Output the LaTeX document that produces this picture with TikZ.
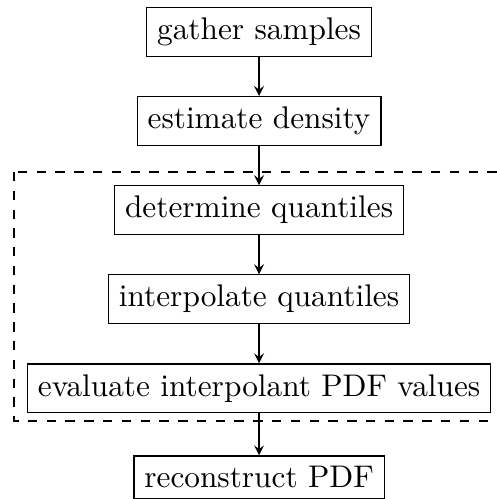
\documentclass[tikz,border=0pt]{standalone}

\begin{document}
\begin{tikzpicture}[box/.style={draw},>=stealth]
                \useasboundingbox (-2.909,0.359) rectangle (2.661,-5.244);
                \node[box] (gather) at (0,0) {gather samples};
                \node[box] (density) at (0,-1) {estimate density};
                \node[box] (quant) at (0,-2) {determine quantiles};
                \node[box] (interp) at (0,-3) {interpolate quantiles};
                \node[box] (eval) at (0,-4) {evaluate interpolant PDF values};
                \node[box] (recon) at (0,-5) {reconstruct PDF};
                \draw[->] (gather)--(density);
                \draw[->] (density)--(quant);
                \draw[->] (quant)--(interp);
                \draw[->] (interp)--(eval);
                \draw[->] (eval)--(recon);
                \draw[thick,dashed] (-2.75,-1.572) rectangle (2.75,-4.37);
            \end{tikzpicture}
\end{document}
